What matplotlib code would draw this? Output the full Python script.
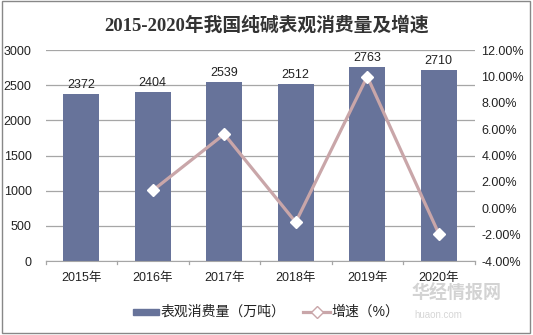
import matplotlib.pyplot as plt
import numpy as np
from matplotlib.patches import Rectangle

plt.rcParams['font.family'] = ['Liberation Sans', 'Noto Sans CJK SC', 'DejaVu Sans']

years = ["2015年", "2016年", "2017年", "2018年", "2019年", "2020年"]
consumption = [2372, 2404, 2539, 2512, 2763, 2710]
growth = [None, 1.35, 5.62, -1.06, 9.99, -1.92]

bar_color = "#67739a"
line_color = "#c9a6a9"
grid_color = "#a6a6a6"

fig = plt.figure(figsize=(5.33, 3.35), dpi=100)
ax1 = fig.add_axes([45.5 / 533, 1 - 261 / 335, 429 / 533, 211 / 335])
ax2 = ax1.twinx()

x = np.arange(len(years))
ax1.bar(x, consumption, width=0.5, color=bar_color, zorder=2)
for xi, v in zip(x, consumption):
    ax1.text(xi, v + 45, str(v), ha="center", va="bottom", fontsize=9, color="#222222")

ax1.set_ylim(0, 3000)
ax1.set_yticks(np.arange(0, 3001, 500))
ax1.set_xlim(-0.5, len(years) - 0.5)
ax1.set_xticks(x)
ax1.set_xticklabels(years)
ax1.yaxis.grid(True, color=grid_color, linewidth=0.9, zorder=0)
ax1.set_axisbelow(True)

gx = [xi for xi, g in zip(x, growth) if g is not None]
gy = [g for g in growth if g is not None]
ax2.plot(gx, gy, color=line_color, linewidth=2.3, marker="D", markersize=6,
         markerfacecolor="white", markeredgecolor="white", zorder=3)
ax2.set_ylim(-4, 12)
ax2.set_yticks(np.arange(-4, 12.1, 2))
ax2.set_yticklabels([f"{v:.2f}%" for v in np.arange(-4, 12.1, 2)])

for a in (ax1, ax2):
    for s in a.spines.values():
        s.set_visible(False)
    a.tick_params(axis="y", length=0, labelsize=9, colors="#222222")
ax1.tick_params(axis="y", pad=10)
ax2.tick_params(axis="y", pad=5)
ax1.spines["bottom"].set_visible(True)
ax1.spines["bottom"].set_color(grid_color)
ax1.tick_params(axis="x", length=0, labelsize=9, colors="#222222", pad=8)

# category separators on the x axis
for b in np.arange(-0.5, len(years), 1.0):
    ax1.plot([b, b], [0, -40], color=grid_color, linewidth=0.9, clip_on=False)

fig.text(0.5, 1 - 25 / 335, "2015-2020年我国纯碱表观消费量及增速", ha="center", va="center",
         fontsize=13.5, fontweight="bold", color="#333333",
         family=["Liberation Serif", "Noto Sans CJK SC"])

# legend
ly = 1 - 312 / 335
fig.patches.append(Rectangle((133 / 533, ly - 3 / 335), 26 / 533, 6 / 335,
                             transform=fig.transFigure, color=bar_color))
fig.text(161 / 533, ly, "表观消费量（万吨）", va="center", fontsize=10, color="#222222")
fig.lines.append(plt.Line2D([303 / 533, 330 / 533], [ly, ly], transform=fig.transFigure,
                            color=line_color, linewidth=2.3))
fig.lines.append(plt.Line2D([316.5 / 533], [ly], transform=fig.transFigure, marker="D",
                            markersize=6, markerfacecolor="white", markeredgecolor=line_color,
                            markeredgewidth=1, linestyle="none"))
fig.text(331 / 533, ly, "增速（%）", va="center", fontsize=10, color="#222222")

# watermark
fig.text(412 / 533, 1 - 293 / 335, "华经情报网", va="center", fontsize=13, fontweight="bold",
         color="#c8c8c8", alpha=0.8, family=["Noto Sans CJK SC"])
fig.text(414 / 533, 1 - 315 / 335, "huaon.com", va="center", fontsize=7,
         color="#cccccc", alpha=0.8)

fig.patches.append(Rectangle((0.004, 0.006), 0.99, 0.99, transform=fig.transFigure,
                             fill=False, edgecolor="#888888", linewidth=1))

fig.savefig("out.png", dpi=100)
